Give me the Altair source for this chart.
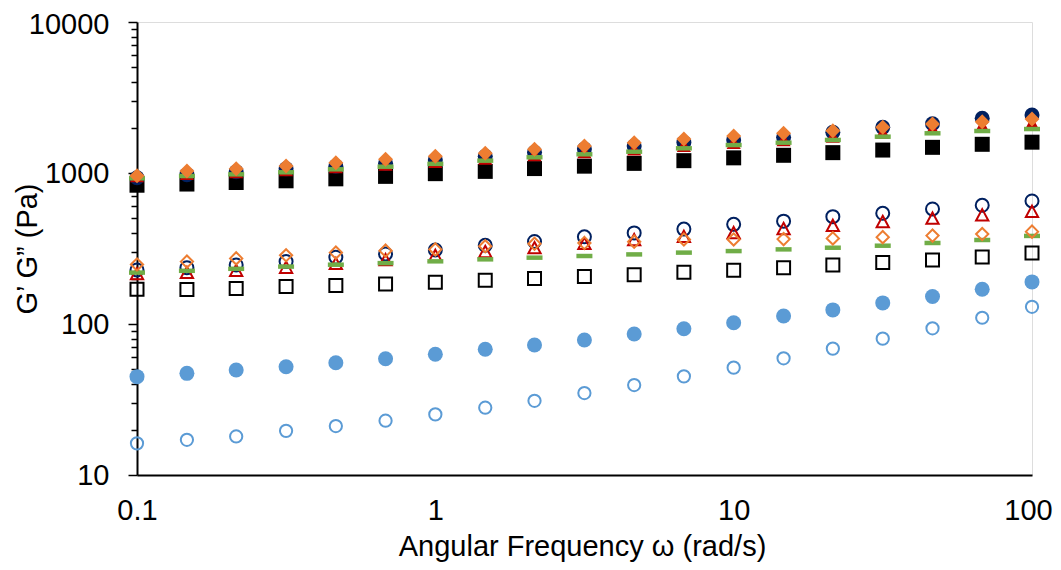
import altair as alt
import pandas as pd

# Angular frequency (rad/s), 6 points per decade
freq = [0.1, 0.147, 0.215, 0.316, 0.464, 0.681, 1, 1.47, 2.15, 3.16, 4.64, 6.81,
        10, 14.7, 21.5, 31.6, 46.4, 68.1, 100]

# G' (filled markers) and G'' (open markers), Pa
navy_g1 = [930, 975, 1020, 1065, 1110, 1160, 1220, 1290, 1370, 1440, 1510, 1590,
           1655, 1722, 1860, 2006, 2120, 2303, 2421]
navy_g2 = [228, 236, 246, 259, 277, 291, 309, 332, 352, 378, 401, 425,
           457, 480, 514, 541, 578, 611, 653]
red_g1 = [950, 984, 1010, 1041, 1090, 1134, 1185, 1243, 1309, 1370, 1430, 1510,
          1580, 1650, 1740, 1850, 1960, 2050, 2130]
red_g2 = [214, 218, 225, 236, 250, 265, 283, 300, 318, 340, 360, 378,
          400, 426, 447, 474, 499, 525, 554]
green_g1 = [922, 955, 980, 1011, 1058, 1101, 1150, 1207, 1271, 1330, 1384, 1457,
            1531, 1588, 1655, 1740, 1832, 1897, 1955]
green_g2 = [219, 225, 232, 240, 247, 253, 260, 268, 275, 282, 289, 297,
            304, 312, 320, 330, 344, 360, 383]
orange_g1 = [960, 1031, 1068, 1112, 1170, 1233, 1290, 1350, 1435, 1510, 1589, 1679,
             1758, 1832, 1906, 2006, 2112, 2188, 2280]
orange_g2 = [248, 259, 272, 285, 297, 306, 312, 327, 340, 344, 351, 363,
             363, 365, 369, 376, 385, 394, 409]
black_g1 = [830, 845, 865, 888, 915, 950, 990, 1025, 1070, 1110, 1158, 1207,
            1260, 1310, 1364, 1419, 1479, 1549, 1600]
black_g2 = [170, 169, 172, 177, 180, 184, 189, 195, 200, 206, 212, 220,
            227, 236, 246, 255, 265, 278, 295]
blue_g1 = [44.8, 47.1, 49.6, 52.1, 55.4, 58.9, 63.0, 68.0, 72.6, 78.4, 85.9, 93.1,
           102, 113, 124, 138, 152, 170, 190]
blue_g2 = [16.2, 17.1, 18.0, 19.6, 21.1, 22.9, 25.2, 27.9, 31.0, 34.9, 39.4, 45.0,
           51.4, 59.3, 68.7, 80.0, 93.6, 110, 130]

y_major = [10, 100, 1000, 10000]
y_ticks = [10, 20, 30, 40, 50, 60, 70, 80, 90,
           100, 200, 300, 400, 500, 600, 700, 800, 900,
           1000, 2000, 3000, 4000, 5000, 6000, 7000, 8000, 9000, 10000]
x_ticks = [0.1, 1, 10, 100]

DASH = "M-1,-0.28H1V0.28H-1Z"
TRI = "M0,-1L1,0.85L-1,0.85Z"

# (name, values, color, shape, filled, size) in drawing order
series = [
    ("blue_g1", blue_g1, "#5B9BD5", "circle", True, 225),
    ("blue_g2", blue_g2, "#5B9BD5", "circle", False, 150),
    ("black_g1", black_g1, "#000000", "square", True, 225),
    ("black_g2", black_g2, "#000000", "square", False, 169),
    ("navy_g1", navy_g1, "#002060", "circle", True, 225),
    ("navy_g2", navy_g2, "#002060", "circle", False, 169),
    ("red_g1", red_g1, "#C00000", TRI, True, 200),
    ("red_g2", red_g2, "#C00000", TRI, False, 150),
    ("green_g1", green_g1, "#70AD47", DASH, True, 256),
    ("green_g2", green_g2, "#70AD47", DASH, True, 256),
    ("orange_g1", orange_g1, "#ED7D31", "diamond", True, 225),
    ("orange_g2", orange_g2, "#ED7D31", "diamond", False, 150),
]

rows = []
for name, vals, *_ in series:
    for f, v in zip(freq, vals):
        rows.append({"freq": f, "value": v, "series": name})
df = pd.DataFrame(rows)

FONT = "Liberation Sans"
FS = 29
major_test = "datum.value==10||datum.value==100||datum.value==1000||datum.value==10000"

x_enc = alt.X(
    "freq:Q",
    scale=alt.Scale(type="log", domain=[0.1, 100], nice=False),
    axis=alt.Axis(
        values=x_ticks, format="~g", ticks=False, tickSize=0, grid=False,
        domainColor="black", domainWidth=2,
        labelFont=FONT, labelFontSize=FS, labelColor="black",
        labelPadding=35, labelBaseline="middle", labelFlush=False,
        labelOffset={"condition": {"test": "datum.value == 100", "value": -4}, "value": 0},
        title="Angular Frequency ω (rad/s)", titleFont=FONT, titleFontSize=FS,
        titleFontWeight="normal", titleColor="black",
        titleX=445, titleY=71, titleBaseline="middle", titleAlign="center",
    ),
)
y_enc = alt.Y(
    "value:Q",
    scale=alt.Scale(type="log", domain=[10, 10000], nice=False),
    axis=alt.Axis(
        values=y_ticks, format="d",
        labelExpr="(" + major_test + ") ? datum.label : ''",
        grid=False,
        tickSize={"condition": {"test": major_test, "value": 9}, "value": 6},
        tickColor="black", tickWidth=1.5,
        domainColor="black", domainWidth=2,
        labelFont=FONT, labelFontSize=FS, labelColor="black",
        labelPadding=19, labelFlush=False, labelOverlap=False,
        labelOffset={"condition": {"test": "datum.value == 10000", "value": 2}, "value": 0},
        title="G’ G” (Pa)", titleFont=FONT, titleFontSize=FS,
        titleFontWeight="normal", titleColor="black",
        titleX=-110, titleY=226.5, titleAngle=270,
        titleBaseline="middle", titleAlign="center",
    ),
)

base = alt.Chart(df)
layers = []
for name, vals, color, shape, filled, size in series:
    if filled:
        mk = base.mark_point(shape=shape, filled=True, fill=color, color=color,
                             size=size, opacity=1, strokeWidth=0)
    else:
        mk = base.mark_point(shape=shape, filled=False, color=color, stroke=color,
                             size=size, opacity=1, strokeWidth=2)
    layers.append(
        mk.encode(x=x_enc, y=y_enc).transform_filter(alt.datum.series == name)
    )

chart = alt.layer(*layers).properties(
    width=895,
    height=453,
    autosize=alt.AutoSizeParams(type="none"),
    padding={"left": 129, "top": 14, "right": 21, "bottom": 87},
).configure_view(
    stroke="black", strokeWidth=1.5
).configure(background="white")

chart.save("out.html", embed_options={"renderer": "svg", "actions": False})
